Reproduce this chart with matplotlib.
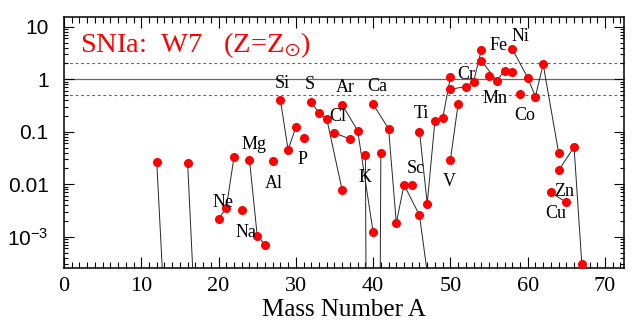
import matplotlib
matplotlib.use("Agg")
import matplotlib.pyplot as plt

# W7 yields relative to solar, grouped per element (isotopes joined by lines)
elements = ["C", "O", "Ne", "Na", "Mg", "Al", "Si", "P", "S", "Cl", "Ar", "K",
            "Ca", "Sc", "Ti", "V", "Cr", "Mn", "Fe", "Co", "Ni", "Cu", "Zn"]
masses = [
    [12, 13], [16, 17], [20, 21, 22], [23], [24, 25, 26], [27], [28, 29, 30],
    [31], [32, 33, 34, 36], [35, 37], [36, 38, 40], [39, 40, 41],
    [40, 42, 43, 44, 46, 48], [45], [46, 47, 48, 49, 50], [50, 51],
    [50, 52, 53, 54], [55], [54, 56, 57, 58], [59], [58, 60, 61, 62, 64],
    [63, 65], [64, 66, 67],
]
ratios = [
    [0.0271, 3.9e-5], [0.0253, 2.1e-5], [0.00218, 0.00353, 0.0329], [0.00327],
    [0.0292, 0.00105, 0.000708], [0.028], [0.404, 0.0453, 0.122], [0.0756],
    [0.365, 0.226, 0.176, 0.00762], [0.094, 0.0733], [0.325, 0.105, 0.00123],
    [0.0353, 1e-30, 0.0392],
    [0.335, 0.1136, 0.00183, 0.00978, 0.00255, 1.7e-5], [0.00978],
    [0.101, 0.00426, 0.163, 0.181, 1.09], [0.0292, 0.339],
    [0.645, 0.723, 0.9, 3.6], [1.155], [2.26, 0.929, 1.457, 1.39], [0.519],
    [3.77, 1.07, 0.467, 1.93, 0.0402], [0.00698, 0.00451],
    [0.0183, 0.051, 3.08e-4],
]

# where the element names sit (A, ratio)
label_names = ["Ne", "Na", "Mg", "Al", "Si", "P", "S", "Cl", "Ar", "Ca", "K",
               "Ti", "Sc", "V", "Cr", "Fe", "Ni", "Mn", "Co", "Zn", "Cu"]
label_A = [20.6, 23.5, 24.6, 27.2, 28.3, 30.9, 31.8, 35.4, 36.4, 40.5, 38.9,
           46.3, 45.5, 49.8, 52.0, 56.2, 59.0, 55.8, 59.6, 64.7, 63.6]
label_y = [4.5e-3, 1.23e-3, 0.058, 0.0105, 0.84, 0.0292, 0.78, 0.194, 0.705,
           0.723, 0.0137, 0.226, 0.0203, 0.0113, 1.21, 4.35, 6.45, 0.422,
           0.203, 0.0073, 0.00275]

ytick_vals = [1e-3, 0.01, 0.1, 1, 10]
ytick_labels = [r"$\mathregular{10^{-3}}$", "0.01", "0.1", "1", "10"]

plt.rcParams["mathtext.fontset"] = "stix"

fig = plt.figure(figsize=(6.36, 3.27), dpi=100)
ax = fig.add_axes([0.1006, 0.1813, 0.8810, 0.7657])

ax.axhline(1, color="0.4", lw=0.9, zorder=1)
for yy in (2, 0.5):
    ax.axhline(yy, color="0.4", lw=0.8, ls=(0, (2.5, 2.5)), zorder=1)

for A, r in zip(masses, ratios):
    if len(A) > 1:
        ax.plot(A, r, color="0.15", lw=0.7, zorder=2)
for A, r in zip(masses, ratios):
    ax.plot(A, r, "o", color="red", ms=5.5, mec="red", ls="none", zorder=3)

for name, a, y in zip(label_names, label_A, label_y):
    ax.text(a, y, name, family="Liberation Serif", fontsize=13,
            ha="center", va="center", zorder=4)

ax.text(0.028, 0.889, r"SNIa:  W7   (Z=Z$_{\odot}$)", transform=ax.transAxes,
        family="Liberation Serif", fontsize=20.5, color="red",
        ha="left", va="center")

ax.set_yscale("log")
ax.set_xlim(0, 72.5)
ax.set_ylim(2.57e-4, 15.1)
ax.set_yticks(ytick_vals)
ax.set_yticklabels(ytick_labels, family="Liberation Sans", fontsize=15)
ax.set_xticks(range(0, 71, 10))
ax.set_xticks(range(0, 73), minor=True)
for t in ax.get_xticklabels():
    t.set_family("Liberation Serif")
    t.set_fontsize(16)
ax.set_xlabel("Mass Number A", family="Liberation Serif", fontsize=18,
              labelpad=2)

ax.tick_params(which="both", direction="in", top=True, right=True)
ax.tick_params(axis="x", which="major", length=8, width=0.8, pad=7)
ax.tick_params(axis="x", which="minor", length=4.3, width=0.8)
ax.tick_params(axis="y", which="major", length=7, width=0.8, pad=11)
ax.tick_params(axis="y", which="minor", length=3.2, width=0.8)
for s in ax.spines.values():
    s.set_linewidth(1.1)

fig.savefig("out.png", dpi=100)
